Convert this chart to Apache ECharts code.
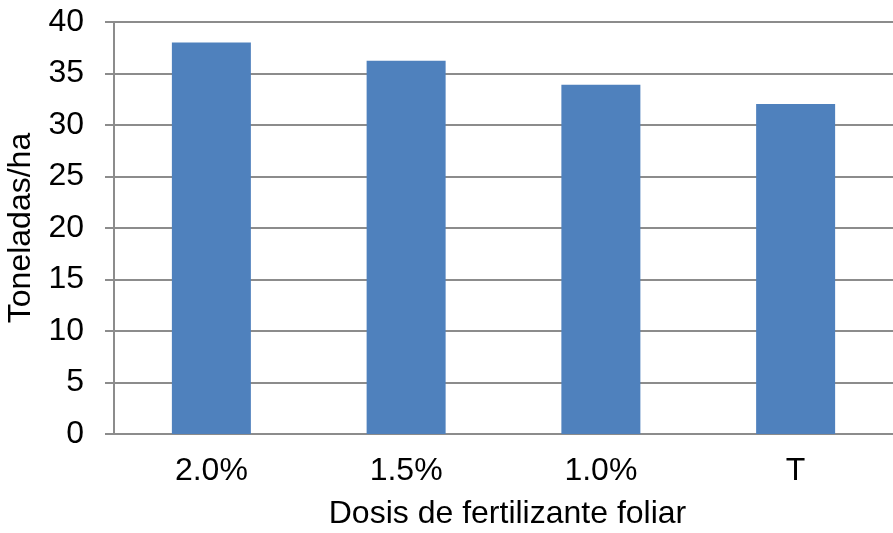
<!DOCTYPE html>
<html>
<head>
<meta charset="utf-8">
<script src="https://cdn.jsdelivr.net/npm/echarts@6/dist/echarts.min.js"></script>
<style>html,body{margin:0;padding:0;background:#fff;}#c{width:893px;height:533px;}</style>
</head>
<body>
<div id="c"></div>
<script>
const categories = ['2.0%', '1.5%', '1.0%', 'T'];
const values = [38.0, 36.25, 33.9, 32.05];
const yTicks = { min: 0, max: 40, interval: 5 };
const xName = 'Dosis de fertilizante foliar';
const yName = 'Toneladas/ha';

const font = 'Liberation Sans, Arial, sans-serif';
const fs = 32;
const chart = echarts.init(document.getElementById('c'), null, { renderer: 'canvas' });
chart.setOption({
  animation: false,
  backgroundColor: '#ffffff',
  grid: { left: 114, right: 0, top: 22, bottom: 99, containLabel: false, outerBoundsMode: 'none' },
  xAxis: {
    type: 'category',
    data: categories,
    name: xName,
    nameLocation: 'middle',
    nameGap: 64,
    nameTextStyle: { fontFamily: font, fontSize: fs, color: '#000', padding: [0, 0, 0, 8] },
    axisLine: { lineStyle: { color: '#8c8c8c', width: 2 } },
    axisTick: { show: false },
    axisLabel: { fontFamily: font, fontSize: fs, color: '#000', margin: 21 }
  },
  yAxis: {
    type: 'value',
    min: yTicks.min, max: yTicks.max, interval: yTicks.interval,
    name: yName,
    nameLocation: 'middle',
    nameGap: 72,
    nameRotate: 90,
    nameTextStyle: { fontFamily: font, fontSize: fs, color: '#000' },
    axisLine: { show: true, lineStyle: { color: '#8c8c8c', width: 2 } },
    axisTick: { show: true, length: 9, lineStyle: { color: '#8c8c8c', width: 2 } },
    axisLabel: { fontFamily: font, fontSize: fs, color: '#000', margin: 30 },
    splitLine: { show: true, lineStyle: { color: '#8c8c8c', width: 2 } }
  },
  series: [{
    type: 'bar',
    data: values,
    barWidth: 79,
    itemStyle: { color: '#4F81BD' }
  }]
});
</script>
</body>
</html>
